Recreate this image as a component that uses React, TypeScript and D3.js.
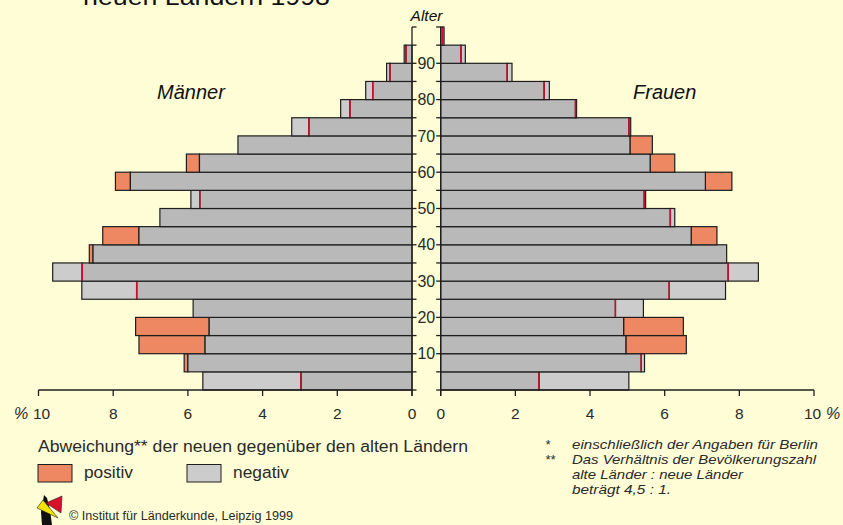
import * as d3 from 'd3'
import React from "react";

// age groups (lower bound of 5-year class)
const ageGroups = [0, 5, 10, 15, 20, 25, 30, 35, 40, 45, 50, 55, 60, 65, 70, 75, 80, 85, 90, 95];

// share in % : neue Länder / alte Länder
const menNew = [2.97, 6.10, 7.31, 7.40, 5.86, 7.37, 8.83, 8.64, 8.28, 6.75, 5.68, 7.94, 6.04, 4.66, 2.76, 1.66, 1.05, 0.59, 0.16, 0];
const menOld = [5.60, 6.00, 5.54, 5.43, 5.86, 8.84, 9.62, 8.54, 7.31, 6.75, 5.92, 7.54, 5.69, 4.66, 3.22, 1.91, 1.24, 0.68, 0.21, 0];
const womenNew = [2.63, 5.37, 6.58, 6.50, 4.68, 6.12, 7.70, 7.66, 7.40, 6.15, 5.45, 7.80, 6.27, 5.67, 5.04, 3.61, 2.77, 1.78, 0.54, 0.05];
const womenOld = [5.04, 5.46, 4.96, 4.90, 5.43, 7.63, 8.51, 7.66, 6.71, 6.27, 5.49, 7.09, 5.61, 5.07, 5.09, 3.64, 2.91, 1.91, 0.66, 0.09];

const pctTicks = [0, 2, 4, 6, 8, 10];
const ageTicks = d3.range(0, 101, 5);
const ageLabels = [10, 20, 30, 40, 50, 60, 70, 80, 90];

const BG = '#fffdd6';
const DARK = '#b9b9b9';
const LIGHT = '#cccccc';
const ORANGE = '#ee8862';
const RED = '#c8102e';
const LINE = '#1e1e1e';
const TEXT = '#2a2a2a';
const FONT = 'Liberation Sans, Arial, sans-serif';

const y = d3.scaleLinear().domain([0, 100]).range([390, 27]);
const xMen = d3.scaleLinear().domain([0, 10]).range([412, 38.5]);
const xWomen = d3.scaleLinear().domain([0, 10]).range([440.7, 814]);

type Scale = d3.ScaleLinear<number, number>;

const Side: React.FC<{ nv: number[]; ov: number[]; x: Scale }> = ({ nv, ov, x }) => {
    const span = (a: number, b: number) => {
        const x0 = x(a), x1 = x(b);
        return { x: Math.min(x0, x1), width: Math.abs(x1 - x0) };
    };
    return (
        <g>
            {ageGroups.map((a, i) => {
                const n = nv[i], o = ov[i];
                if (n === 0 && o === 0) return null;
                const top = y(a + 5), h = y(a) - y(a + 5);
                const base = Math.min(n, o);
                return (
                    <g key={a}>
                        {n > o && <rect {...span(o, n)} y={top} height={h} fill={ORANGE} stroke={LINE} strokeWidth={1.2} />}
                        {n < o && <rect {...span(n, o)} y={top} height={h} fill={LIGHT} stroke={LINE} strokeWidth={1.2} />}
                        <rect {...span(0, base)} y={top} height={h} fill={DARK} stroke={LINE} strokeWidth={1.2} />
                        {n < o && <line x1={x(n)} x2={x(n)} y1={top + 0.6} y2={top + h - 0.6} stroke={RED} strokeWidth={1.6} />}
                    </g>
                );
            })}
        </g>
    );
};

const PctAxis: React.FC<{ x: Scale; shift: number }> = ({ x, shift }) => (
    <g>
        <line x1={x(0)} x2={x(10)} y1={390} y2={390} stroke={LINE} strokeWidth={1.3} />
        {pctTicks.map(t => (
            <g key={t}>
                <line x1={x(t)} x2={x(t)} y1={390} y2={396} stroke={LINE} strokeWidth={1.3} />
                <text x={x(t) + (t === 10 ? shift : 0)} y={419} textAnchor="middle" fontSize={15.5} fill={TEXT}>{t}</text>
            </g>
        ))}
    </g>
);

const App: React.FC = () => {
    return (
        <svg width={843} height={525} style={{ position: 'absolute', left: 0, top: 0 }} fontFamily={FONT}>
            <rect width={843} height={525} fill={BG} />
            <text x={83} y={5} fontSize={24} fill="#111" textLength={247} lengthAdjust="spacingAndGlyphs">neuen Ländern 1998</text>

            <Side nv={menNew} ov={menOld} x={xMen} />
            <Side nv={womenNew} ov={womenOld} x={xWomen} />

            {/* age axes */}
            <line x1={xMen(0)} x2={xMen(0)} y1={y(100)} y2={396} stroke={LINE} strokeWidth={1.3} />
            <line x1={xWomen(0)} x2={xWomen(0)} y1={y(100)} y2={396} stroke={LINE} strokeWidth={1.3} />
            {ageTicks.map(t => (
                <g key={t}>
                    <line x1={xMen(0)} x2={xMen(0) + 4.5} y1={y(t)} y2={y(t)} stroke={LINE} strokeWidth={1.3} />
                    <line x1={xWomen(0) - 4.5} x2={xWomen(0)} y1={y(t)} y2={y(t)} stroke={LINE} strokeWidth={1.3} />
                </g>
            ))}
            {ageLabels.map(t => (
                <text key={t} x={(xMen(0) + xWomen(0)) / 2} y={y(t) + 5.6} textAnchor="middle" fontSize={16} fill={TEXT}>{t}</text>
            ))}
            <text x={426.5} y={20.5} textAnchor="middle" fontSize={15.5} fontStyle="italic" fill="#111">Alter</text>

            <PctAxis x={xMen} shift={3} />
            <PctAxis x={xWomen} shift={-1.5} />
            <text x={14} y={419} fontSize={16} fontStyle="italic" fill={TEXT}>%</text>
            <text x={826} y={419} fontSize={16} fontStyle="italic" fill={TEXT}>%</text>

            <text x={157} y={99} fontSize={20} fontStyle="italic" fill="#111">Männer</text>
            <text x={633} y={99} fontSize={20} fontStyle="italic" fill="#111">Frauen</text>

            {/* legend */}
            <text x={38} y={452} fontSize={16} fill={TEXT} textLength={430} lengthAdjust="spacingAndGlyphs">Abweichung** der neuen gegenüber den alten Ländern</text>
            <rect x={38} y={464.5} width={34} height={17.5} fill={ORANGE} stroke={LINE} strokeWidth={1} />
            <text x={84} y={478} fontSize={16} fill={TEXT} textLength={49} lengthAdjust="spacingAndGlyphs">positiv</text>
            <rect x={187} y={464.5} width={34} height={17.5} fill={LIGHT} stroke={LINE} strokeWidth={1} />
            <text x={233} y={478} fontSize={16} fill={TEXT} textLength={56} lengthAdjust="spacingAndGlyphs">negativ</text>

            {/* footnotes */}
            <g fontSize={13} fontStyle="italic" fill={TEXT}>
                <text x={545} y={449}>*</text>
                <text x={572} y={449} textLength={246} lengthAdjust="spacingAndGlyphs">einschließlich der Angaben für Berlin</text>
                <text x={545} y={464.3}>**</text>
                <text x={572} y={464.3} textLength={244} lengthAdjust="spacingAndGlyphs">Das Verhältnis der Bevölkerungszahl</text>
                <text x={572} y={479.3} textLength={171} lengthAdjust="spacingAndGlyphs">alte Länder : neue Länder</text>
                <text x={572} y={494.3} textLength={99} lengthAdjust="spacingAndGlyphs">beträgt 4,5 : 1.</text>
            </g>

            {/* logo + credit */}
            <g>
                <path d="M44,495 L47,498 L50,510 L52,525 L42,525 L41,512 Z" fill="#111" />
                <path d="M46,503 L62,496 L61,513 Z" fill="#d8102a" stroke="#222" strokeWidth={0.6} />
                <path d="M37,508 L43,500 L58,518 Z" fill="#f2e200" stroke="#222" strokeWidth={0.6} />
            </g>
            <text x={69} y={520} fontSize={12} fill={TEXT} textLength={224} lengthAdjust="spacingAndGlyphs">© Institut für Länderkunde, Leipzig 1999</text>
        </svg>
    );
};

export default App;
